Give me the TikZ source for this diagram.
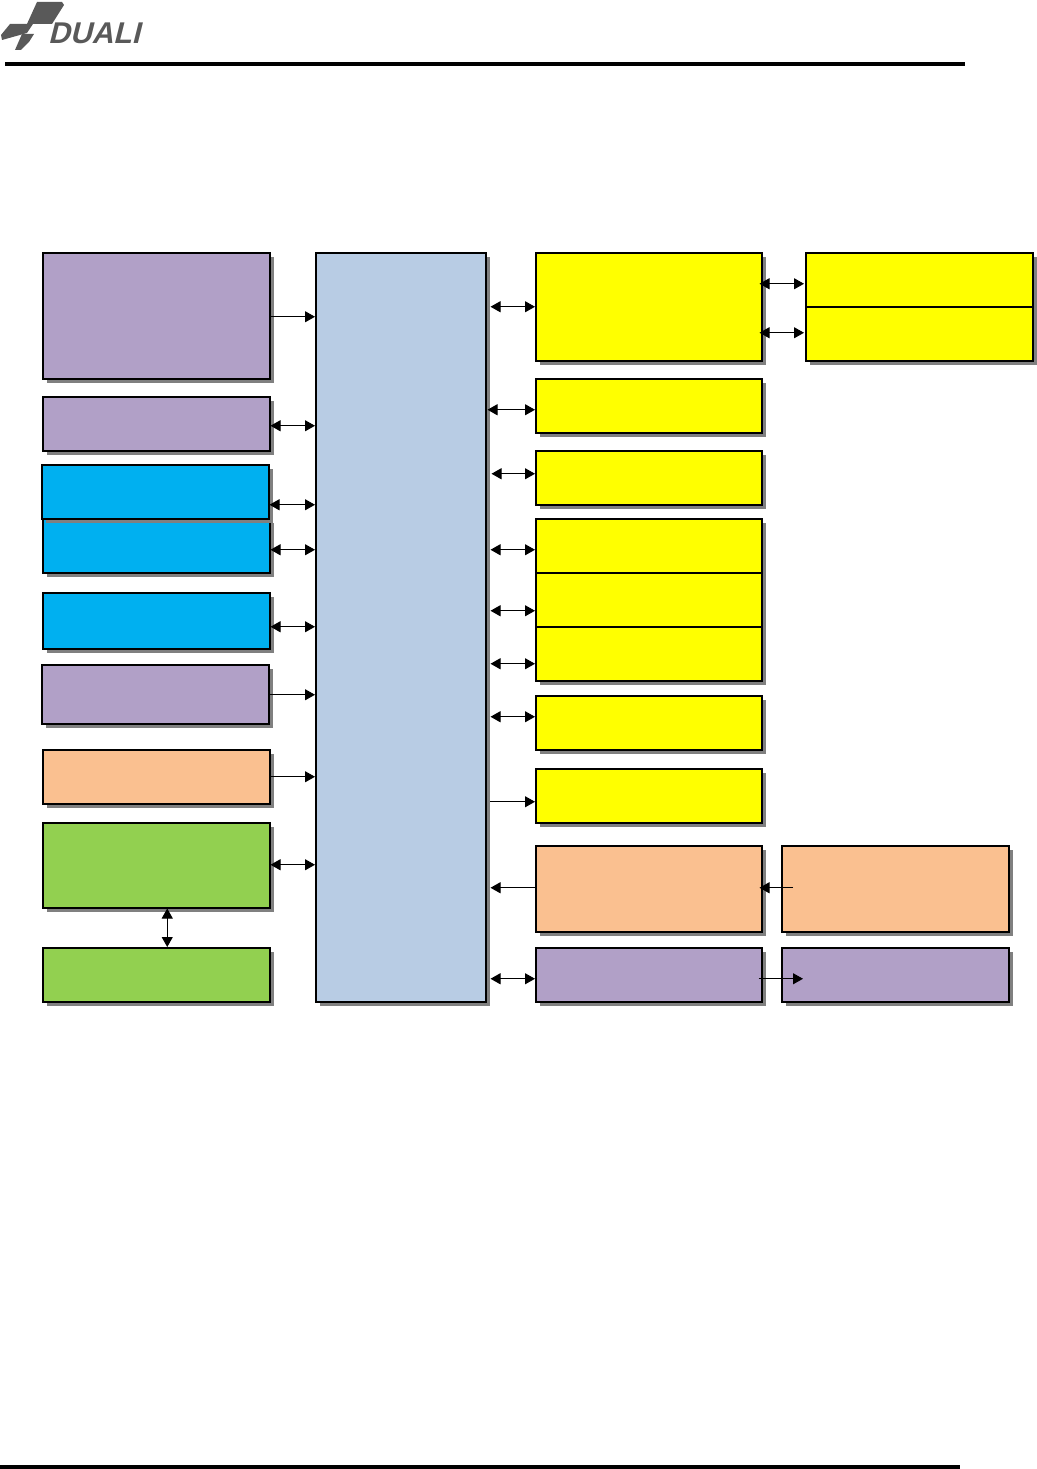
\documentclass[tikz,border=0pt]{standalone}
\usepackage{fontspec}
\usetikzlibrary{arrows.meta,shadows,calc}
\definecolor{cpurple}{HTML}{B1A0C7}
\definecolor{cblue}{HTML}{00B0F0}
\definecolor{cmain}{HTML}{B8CCE4}
\definecolor{cyel}{HTML}{FFFF00}
\definecolor{corange}{HTML}{FAC090}
\definecolor{cgreen}{HTML}{92D050}
\definecolor{cshadow}{HTML}{808080}
\definecolor{clogo}{HTML}{595959}
\tikzset{
  blk/.style={draw=black,line width=1.5pt,rectangle,inner sep=0pt,anchor=north west,
    general shadow={shadow xshift=4pt,shadow yshift=-4pt,fill=cshadow}},
  link/.style={line width=1pt,black},
  both/.style={link,{Triangle[length=10pt,width=11pt]}-{Triangle[length=10pt,width=11pt]}},
  one/.style={link,-{Triangle[length=10pt,width=11pt]}},
  rule/.style={line width=3.5pt,black},
  logo/.style={fill=clogo,draw=none}
}
\newcommand{\bx}[6]{\node[blk,fill=#6,minimum width=#4pt-#2pt,minimum height=#5pt-#3pt] (#1) at (#2,#3) {};}
\begin{document}
\begin{tikzpicture}[x=1pt,y=-1pt]
\useasboundingbox (0,0) rectangle (1036,1469);
% logo
\fill[logo] (37,2) -- (62,2) -- (64,5) -- (52,24) -- (27,24) -- cycle;
\fill[logo] (10,24) -- (33,24) -- (27,33) -- (2,40) -- (1,35) -- cycle;
\fill[logo] (22,34) -- (34,34) -- (29,42) -- (21,50) -- (15,50) -- cycle;
\node[anchor=west,inner sep=0pt,text=clogo,font={\fontspec{Liberation Sans}[FakeSlant=0.25]\bfseries\fontsize{30}{30}\selectfont}] (brand) at (48,33) {DUALI};
\draw[rule] (5,64) coordinate (ha) -- (965,64) coordinate (hb);
\draw[rule,line width=4pt] (0,1467) coordinate (fa) -- (960,1467) coordinate (fb);
% boxes
\bx{main}{315}{252}{485}{1001}{cmain}
\bx{lA}{42}{252}{269}{378}{cpurple}
\bx{lB}{42}{396}{269}{450}{cpurple}
\bx{lD}{42}{518}{269}{572}{cblue}
\bx{lC}{41}{464}{268}{518}{cblue}
\bx{lE}{42}{592}{269}{648}{cblue}
\bx{lF}{41}{664}{268}{723}{cpurple}
\bx{lG}{42}{749}{269}{803}{corange}
\bx{lH}{42}{822}{269}{907}{cgreen}
\bx{lI}{42}{947}{269}{1001}{cgreen}
\bx{rA}{535}{252}{761}{360}{cyel}
\bx{fA}{805}{252}{1032}{306}{cyel}
\bx{fB}{805}{306}{1032}{360}{cyel}
\bx{rB}{535}{378}{761}{432}{cyel}
\bx{rC}{535}{450}{761}{504}{cyel}
\bx{rD}{535}{518}{761}{572}{cyel}
\bx{rE}{535}{572}{761}{626}{cyel}
\bx{rF}{535}{626}{761}{680}{cyel}
\bx{rG}{535}{695}{761}{749}{cyel}
\bx{rH}{535}{768}{761}{822}{cyel}
\bx{rI}{535}{845}{761}{931}{corange}
\bx{fI}{781}{845}{1008}{931}{corange}
\bx{rJ}{535}{947}{761}{1001}{cpurple}
\bx{fJ}{781}{947}{1008}{1001}{cpurple}
% left connectors
\draw[one] (lA.east) ++(0,1) coordinate (c1) -- (c1 -| main.west);
\draw[both] (lB.east) ++(0,2) coordinate (c2) -- (c2 -| main.west);
\draw[both] (lC.east) ++(0,13) coordinate (c3) -- (c3 -| main.west);
\draw[both] (lD.east) ++(0,4) coordinate (c4) -- (c4 -| main.west);
\draw[both] (lE.east) ++(0,6) coordinate (c5) -- (c5 -| main.west);
\draw[one] (lF.east) ++(0,0.5) coordinate (c6) -- (c6 -| main.west);
\draw[one] (lG.east) coordinate (c7) -- (c7 -| main.west);
\draw[both] (lH.east) ++(0,-0.5) coordinate (c8) -- (c8 -| main.west);
\draw[both] (lH.south) ++(11,0) coordinate (c9) -- (c9 |- lI.north);
% right connectors
\draw[both] (rA.west) ++(0,10) ++(0,-10) coordinate (d1) -- ($(d1 -| main.east)+(4,0)$);
\draw[both] (rB.west) ++(0,4) coordinate (d2) -- ($(d2 -| main.east)+(1,0)$);
\draw[both] (rC.west) ++(0,-4) coordinate (d3) -- ($(d3 -| main.east)+(5,0)$);
\draw[both] (rD.west) ++(0,4) coordinate (d4) -- ($(d4 -| main.east)+(4,0)$);
\draw[both] (rE.west) ++(0,11) coordinate (d5) -- ($(d5 -| main.east)+(4,0)$);
\draw[both] (rF.west) ++(0,10) coordinate (d6) -- ($(d6 -| main.east)+(4,0)$);
\draw[both] (rG.west) ++(0,-6) coordinate (d7) -- ($(d7 -| main.east)+(4,0)$);
\draw[one] ($(rH.west)+(-45,6)$) coordinate (d8) -- (d8 -| rH.west);
\draw[one] (rI.west) ++(0,-1) coordinate (d9) -- ($(d9 -| main.east)+(4,0)$);
\draw[both] (rJ.west) ++(0,4) coordinate (d10) -- ($(d10 -| main.east)+(4,0)$);
% far connectors
\draw[both] (fA.west) ++(-1,4) coordinate (e1) -- ($(e1 -| rA.east)+(-3,0)$);
\draw[both] (fB.west) ++(-1,-1) coordinate (e2) -- ($(e2 -| rA.east)+(-3,0)$);
\draw[one] ($(fI.west)+(12,-1)$) coordinate (e3) -- ($(e3 -| rI.east)+(-3,0)$);
\draw[one] ($(rJ.east)+(-4,4)$) coordinate (e4) -- ($(e4 -| fJ.west)+(22,0)$);
\end{tikzpicture}
\end{document}
